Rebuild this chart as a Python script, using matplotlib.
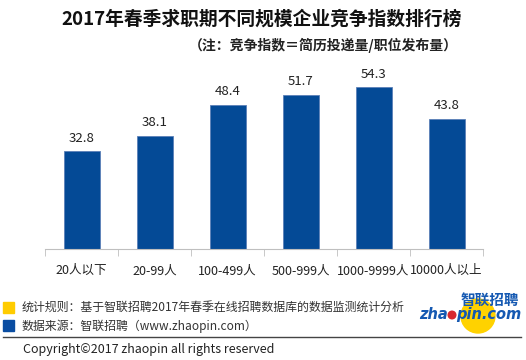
import matplotlib
matplotlib.use("Agg")
import matplotlib.pyplot as plt
from matplotlib.patches import Circle, Rectangle
import numpy as np

plt.rcParams['font.family'] = ['Noto Sans CJK SC', 'DejaVu Sans']

categories = ['20人以下', '20-99人', '100-499人', '500-999人', '1000-9999人', '10000人以上']
values = [32.8, 38.1, 48.4, 51.7, 54.3, 43.8]

title = '2017年春季求职期不同规模企业竞争指数排行榜'
subtitle = '（注：竞争指数＝简历投递量/职位发布量）'
note1 = '统计规则：基于智联招聘2017年春季在线招聘数据库的数据监测统计分析'
note2 = '数据来源：智联招聘（www.zhaopin.com）'
copyright_text = 'Copyright©2017 zhaopin all rights reserved'

W, H = 526, 360
fig = plt.figure(figsize=(W / 100, H / 100), dpi=100)

# plot area: x 45..483 px, baseline at y=249 px
ax = fig.add_axes([45 / W, 1 - 249 / H, 438 / W, 178.7 / H])
x = np.arange(len(categories))
ax.bar(x, values, width=36 / 73, color='#044A96', edgecolor='#5B80B8', linewidth=0.6)
for xi, v in zip(x, values):
    ax.text(xi, v + 2.2, f'{v}', ha='center', va='bottom', fontsize=9.5, color='#222222')

ax.set_xlim(-0.5, len(categories) - 0.5)
ax.set_ylim(0, 60)
for s in ['top', 'right', 'left']:
    ax.spines[s].set_visible(False)
ax.spines['bottom'].set_color('#BFBFBF')
ax.set_yticks([])
ax.set_xticks(x)
ax.set_xticklabels(categories, fontsize=9, color='#222222')
ax.tick_params(axis='x', which='major', length=0, pad=11)
ax.set_xticks(np.arange(len(categories) + 1) - 0.5, minor=True)
ax.tick_params(axis='x', which='minor', length=5, color='#BFBFBF')

fig.text(262 / W, 1 - 19 / H, title, ha='center', va='center',
         fontsize=13.5, fontweight='bold', color='#111111')
fig.text(458 / W, 1 - 45 / H, subtitle, ha='right', va='center',
         fontsize=10, fontweight='bold', color='#222222')

# footer notes
fig.add_artist(Rectangle((3 / W, 1 - 313 / H), 11 / W, 11 / H, color='#FFCC00',
                         transform=fig.transFigure))
fig.add_artist(Rectangle((3 / W, 1 - 331 / H), 11 / W, 11 / H, color='#0A4DA2',
                         transform=fig.transFigure))
fig.text(22 / W, 1 - 307.5 / H, note1, ha='left', va='center', fontsize=8.6, color='#333333')
fig.text(22 / W, 1 - 326 / H, note2, ha='left', va='center', fontsize=8.6, color='#333333')
fig.add_artist(plt.Line2D([3 / W, 521 / W], [1 - 337 / H, 1 - 337 / H],
                          color='#444444', linewidth=1, transform=fig.transFigure))
fig.text(23 / W, 1 - 350 / H, copyright_text, ha='left', va='center', fontsize=9, color='#222222')

# logo
logo_ax = fig.add_axes([420 / W, 1 - 336 / H, 106 / W, 48 / H])
logo_ax.set_xlim(420, 526)
logo_ax.set_ylim(336, 288)
logo_ax.axis('off')
logo_ax.add_patch(Circle((478, 316), 17, color='#FFD200'))
logo_ax.add_patch(Circle((452, 315), 3.8, color='#D8282E'))
logo_ax.text(448, 315, 'zha', ha='right', va='center', fontsize=10.5,
             fontweight='bold', fontstyle='italic', color='#1559B2', family='DejaVu Sans')
logo_ax.text(456, 315, 'pin.com', ha='left', va='center', fontsize=10.5,
             fontweight='bold', fontstyle='italic', color='#1559B2', family='DejaVu Sans')
logo_ax.text(519, 300, '智联招聘', ha='right', va='center', fontsize=10.5,
             fontweight='bold', color='#1559B2')

fig.savefig('out.png', dpi=100)
